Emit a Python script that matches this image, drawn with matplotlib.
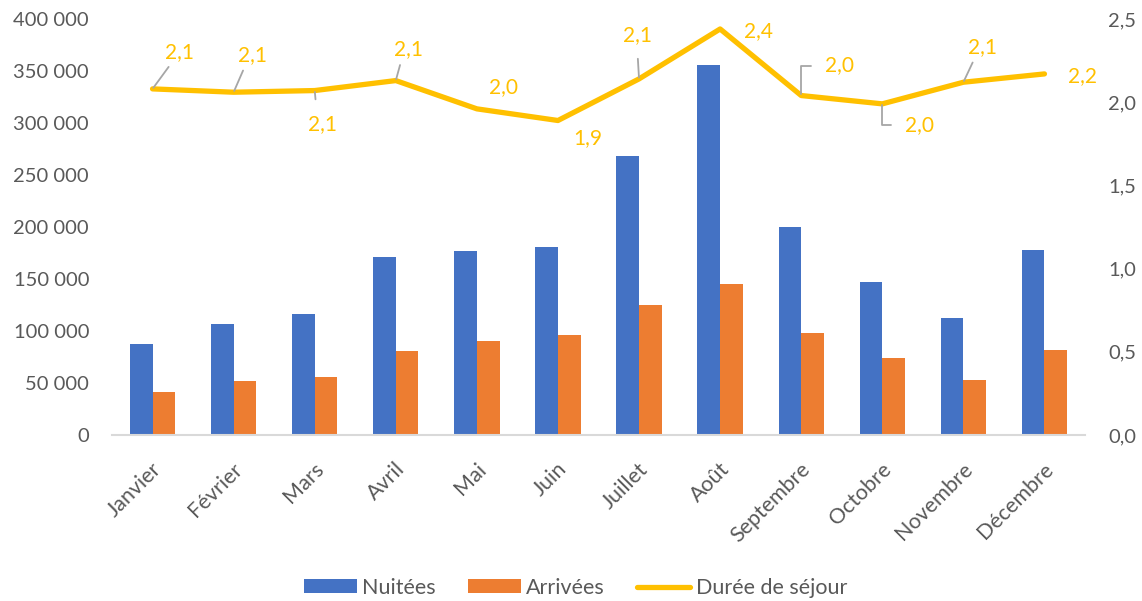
import matplotlib
matplotlib.use("Agg")
import matplotlib.pyplot as plt
import matplotlib.transforms as mtransforms
from matplotlib.patches import Patch
from matplotlib.lines import Line2D
from matplotlib.ticker import FuncFormatter
import numpy as np

# ---- data ----
months = ["Janvier", "Février", "Mars", "Avril", "Mai", "Juin", "Juillet",
          "Août", "Septembre", "Octobre", "Novembre", "Décembre"]
nuitees = [87300, 107200, 116200, 171500, 177300, 181100, 268500,
           355500, 200000, 147100, 112700, 177900]
arrivees = [41800, 52000, 55900, 80300, 90600, 96000, 125200,
            145500, 98300, 74200, 53000, 81600]
duree = [2.08, 2.06, 2.07, 2.13, 1.96, 1.89, 2.14, 2.44, 2.04, 1.99, 2.12, 2.17]
duree_labels = ["2,1", "2,1", "2,1", "2,1", "2,0", "1,9", "2,1", "2,4",
                "2,0", "2,0", "2,1", "2,2"]
left_ticks = [0, 50000, 100000, 150000, 200000, 250000, 300000, 350000, 400000]
right_ticks = [0.0, 0.5, 1.0, 1.5, 2.0, 2.5]

# ---- style ----
FONT = "Lato"
TXT = "#595959"
BLUE = "#4472C4"
ORANGE = "#ED7D31"
GOLD = "#FFC000"
FS_Y = 14.5
FS_X = 15.5
FS_LAB = 15
FS_LEG = 15.5

plt.rcParams["font.family"] = [FONT, "DejaVu Sans"]

W, H = 1142, 601
fig = plt.figure(figsize=(W / 100, H / 100), dpi=100)
ax_l, ax_r, ax_b, ax_t = 112, 1085, 435, 19
ax = fig.add_axes([ax_l / W, 1 - ax_b / H, (ax_r - ax_l) / W, (ax_b - ax_t) / H])

x = np.arange(len(months))
bw = 0.28
ax.bar(x - bw / 2, nuitees, width=bw, color=BLUE, zorder=2)
ax.bar(x + bw / 2, arrivees, width=bw, color=ORANGE, zorder=2)
ax.set_xlim(-0.5, len(months) - 0.5)
ax.set_ylim(0, 400000)
ax.set_yticks(left_ticks)
ax.yaxis.set_major_formatter(FuncFormatter(lambda v, p: f"{int(v):,}".replace(",", " ")))

for s in ["top", "right", "left"]:
    ax.spines[s].set_visible(False)
ax.spines["bottom"].set_color("#D9D9D9")
ax.spines["bottom"].set_linewidth(1.5)
ax.tick_params(axis="both", length=0, colors=TXT)
ax.tick_params(axis="y", pad=16.5, labelsize=FS_Y)

ax.set_xticks(x)
ax.set_xticklabels(months, rotation=45, ha="right", va="center",
                   rotation_mode="anchor", fontsize=FS_X, color=TXT)
ax.tick_params(axis="x", pad=0)
off = mtransforms.ScaledTranslation(6 / 100, -31 / 100, fig.dpi_scale_trans)
for lab in ax.get_xticklabels():
    lab.set_transform(lab.get_transform() + off)

ax2 = ax.twinx()
ax2.set_ylim(0, 2.5)
ax2.set_yticks(right_ticks)
ax2.yaxis.set_major_formatter(FuncFormatter(lambda v, p: f"{v:.1f}".replace(".", ",")))
for s in ["top", "right", "left", "bottom"]:
    ax2.spines[s].set_visible(False)
ax2.tick_params(axis="y", length=0, colors=TXT, labelsize=FS_Y, pad=16.5)
ax2.plot(x, duree, color=GOLD, lw=3.8, solid_capstyle="round",
         solid_joinstyle="round", zorder=3)

# label offsets (pixels) and leader styles
offsets = [(27, 37), (19, 37), (8, -34), (13, 31), (27, 22), (30, -18),
           (-2, 44), (38, -2), (38, 30), (37, -21), (19, 35), (38, -2)]
leaders = ["diag", "diag", "diagdown", "diag", None, None,
           "vert", None, "elbow", "elbow", "diag", None]
for i, (xo, yo) in enumerate(offsets):
    kind = leaders[i]
    ap = None
    if kind == "diag":
        ap = dict(arrowstyle="-", color="#A6A6A6", lw=1.3, relpos=(0.25, 0.0),
                  shrinkA=2, shrinkB=1)
    elif kind == "diagdown":
        ap = dict(arrowstyle="-", color="#A6A6A6", lw=1.3, relpos=(0.3, 1.0),
                  shrinkA=9, shrinkB=1)
    elif kind == "vert":
        ap = dict(arrowstyle="-", color="#A6A6A6", lw=1.3, relpos=(0.5, 0.0),
                  shrinkA=8, shrinkB=1)
    elif kind == "elbow":
        ap = dict(arrowstyle="-", color="#A6A6A6", lw=1.3, relpos=(0.0, 0.5),
                  shrinkA=8, shrinkB=1,
                  connectionstyle="angle,angleA=0,angleB=90,rad=0")
    ax2.annotate(duree_labels[i], xy=(x[i], duree[i]), xytext=(xo, yo),
                 textcoords="offset pixels", ha="center", va="center",
                 fontsize=FS_LAB, color=GOLD, arrowprops=ap, zorder=4)

handles = [Patch(facecolor=BLUE, edgecolor="none"),
           Patch(facecolor=ORANGE, edgecolor="none"),
           Line2D([0], [0], color=GOLD, lw=3.8, solid_capstyle="round")]
fig.legend(handles, ["Nuitées", "Arrivées", "Durée de séjour"],
           loc="center", bbox_to_anchor=(0.504, 0.022), ncol=3, frameon=False,
           fontsize=FS_LEG, labelcolor=TXT, handlelength=2.45, handleheight=0.62,
           handletextpad=0.25, columnspacing=1.5)

fig.savefig("out.png", dpi=100)
